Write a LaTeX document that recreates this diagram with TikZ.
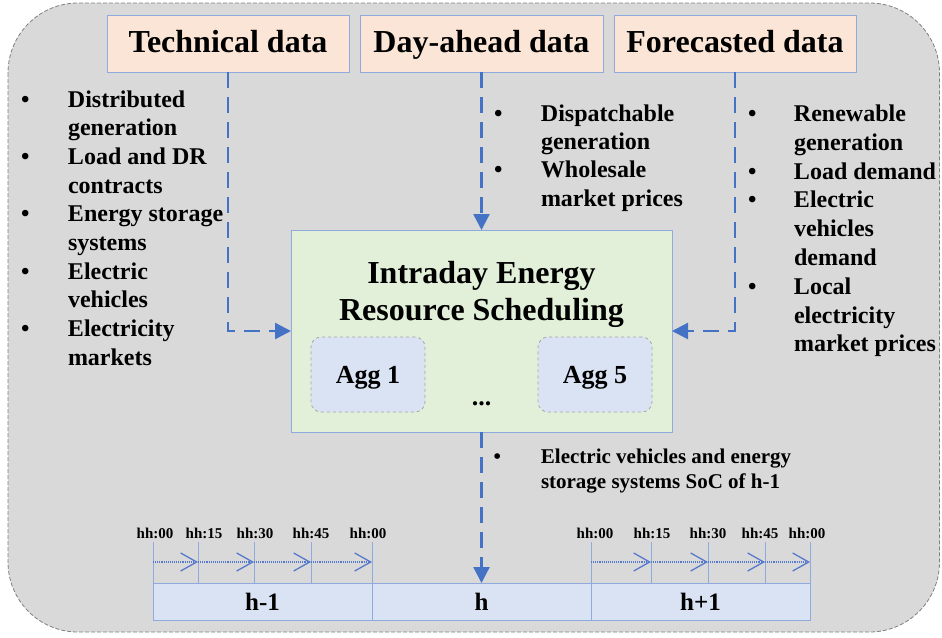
\documentclass[tikz,border=0pt]{standalone}
\usepackage{fontspec}
\setmainfont{Liberation Serif}
\usetikzlibrary{arrows.meta}

\definecolor{panelgray}{HTML}{D9D9D9}
\definecolor{paneledge}{HTML}{7F7F7F}
\definecolor{peach}{HTML}{FBE5D6}
\definecolor{mint}{HTML}{E2F0D9}
\definecolor{paleblue}{HTML}{DAE3F3}
\definecolor{edgeblue}{HTML}{8FAADC}
\definecolor{flowblue}{HTML}{4472C4}
\definecolor{minuteblue}{HTML}{5579CC}
\definecolor{agggray}{HTML}{A6A6A6}

\begin{document}
\begin{tikzpicture}[x=1pt,y=-1pt,
  every node/.style={inner sep=0pt, outer sep=0pt},
  header/.style={draw=edgeblue, line width=1pt, fill=peach,
    minimum height=57pt, text height=23pt, text depth=6pt,
    font=\fontsize{32}{38}\selectfont\bfseries},
  schedbox/.style={draw=edgeblue, line width=1pt, fill=mint,
    minimum width=381pt, minimum height=202pt},
  titletext/.style={font=\fontsize{32}{38}\selectfont\bfseries, anchor=base},
  aggbox/.style={draw=agggray, dashed, line width=0.8pt, fill=paleblue,
    rounded corners=10pt, minimum width=114pt, minimum height=75pt,
    text height=17pt, text depth=0pt, font=\fontsize{26}{31}\selectfont\bfseries},
  cell/.style={draw=edgeblue, line width=0.9pt, fill=paleblue,
    minimum width=219pt, minimum height=37pt, text height=17pt, text depth=0pt,
    font=\fontsize{25}{30}\selectfont\bfseries},
  bulletlist/.style={anchor=base west, align=left},
  flowline/.style={draw=flowblue, line width=2.4pt, dash pattern=on 16pt off 9pt,
    -{Triangle[length=16pt,width=16pt]}},
  tickline/.style={draw=edgeblue, line width=0.9pt},
  minute/.style={draw=minuteblue, line width=1.1pt, densely dotted,
    -{Straight Barb[length=16pt,width=18pt,line width=1.3pt]}},
  ticklabel/.style={anchor=base, font=\fontsize{15}{18}\selectfont\bfseries},
]
\useasboundingbox (0,0) rectangle (942,637);

% background panel
\draw[draw=paneledge, fill=panelgray, line width=0.8pt, dash pattern=on 4pt off 2pt,
  rounded corners=70pt] (8,3) rectangle (939.5,632);

% data sources
\node[header, minimum width=242pt] (tech) at (228,43.5) {Technical data};
\node[header, minimum width=243pt] (day) at (481.5,43.5) {Day-ahead data};
\node[header, minimum width=242pt] (fore) at (735,43.5) {Forecasted data};

% scheduling block
\node[schedbox] (sched) at (481.5,331) {};
\node[titletext] (title1) at (481.5,283) {Intraday Energy};
\node[titletext] (title2) at (481.5,320) {Resource Scheduling};
\node[aggbox] (agg1) at (368,374.5) {Agg 1};
\node[aggbox] (agg5) at (595,374.5) {Agg 5};
\node[anchor=base, font=\fontsize{26}{31}\selectfont\bfseries] (dots) at (481.5,405) {...};

% data item lists
\node[bulletlist] (techlist) at (21,107) {\fontsize{24}{28.7}\selectfont\bfseries
  \begin{tabular}[t]{@{}p{47pt}@{}l@{}}
  \textbullet & Distributed\\
   & generation\\
  \textbullet & Load and DR\\
   & contracts\\
  \textbullet & Energy storage\\
   & systems\\
  \textbullet & Electric\\
   & vehicles\\
  \textbullet & Electricity\\
   & markets
  \end{tabular}};
\node[bulletlist] (daylist) at (494,121) {\fontsize{24}{28.4}\selectfont\bfseries
  \begin{tabular}[t]{@{}p{47pt}@{}l@{}}
  \textbullet & Dispatchable\\
   & generation\\
  \textbullet & Wholesale\\
   & market prices
  \end{tabular}};
\node[bulletlist] (forelist) at (748,121.5) {\fontsize{24}{28.8}\selectfont\bfseries
  \begin{tabular}[t]{@{}p{46pt}@{}l@{}}
  \textbullet & Renewable\\
   & generation\\
  \textbullet & Load demand\\
  \textbullet & Electric\\
   & vehicles\\
   & demand\\
  \textbullet & Local\\
   & electricity\\
   & market prices
  \end{tabular}};
\node[bulletlist] (soclist) at (493.5,463) {\fontsize{21}{25.5}\selectfont\bfseries
  \begin{tabular}[t]{@{}p{47.5pt}@{}l@{}}
  \textbullet & Electric vehicles and energy\\
   & storage systems SoC of h-1
  \end{tabular}};

% hourly timeline
\node[cell] (hm1) at (262.5,601.5) {h-1};
\node[cell] (h0) at (481.5,601.5) {h};
\node[cell] (hp1) at (700.5,601.5) {h+1};

% quarter-hour marks (on the arrow line)
\foreach \n/\x in {1/153,2/198,3/254,4/311,5/372,6/591,7/651,8/708,9/765,10/810}
  \coordinate (q\n) at (\x,562);
\foreach \n in {1,...,10}
  \draw[tickline] ([yshift=20pt]q\n) -- (q\n |- h0.north);
\foreach \a/\b in {1/2,2/3,3/4,4/5,6/7,7/8,8/9,9/10}
  \draw[minute] (q\a) -- (q\b);

\node[ticklabel] (l1) at (155,538) {hh:00};
\node[ticklabel] (l2) at (204,538) {hh:15};
\node[ticklabel] (l3) at (255,538) {hh:30};
\node[ticklabel] (l4) at (311,538) {hh:45};
\node[ticklabel] (l5) at (368,538) {hh:00};
\node[ticklabel] (l6) at (595,538) {hh:00};
\node[ticklabel] (l7) at (652,538) {hh:15};
\node[ticklabel] (l8) at (708,538) {hh:30};
\node[ticklabel] (l9) at (760,538) {hh:45};
\node[ticklabel] (l10) at (807,538) {hh:00};

% data flows
\draw[flowline] (tech.south) |- (sched.west);
\draw[flowline] (day.south) -- (sched.north);
\draw[flowline] (fore.south) |- (sched.east);
\draw[flowline] (sched.south) -- (h0.north);
\end{tikzpicture}
\end{document}
